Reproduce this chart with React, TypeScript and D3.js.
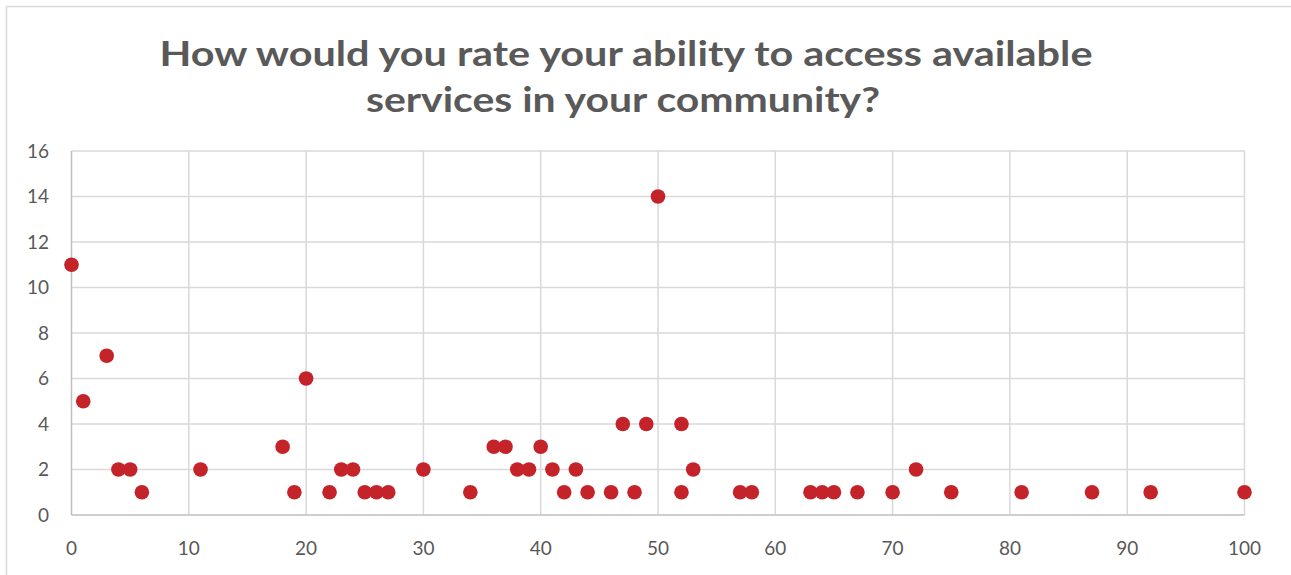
import { useMemo } from 'react'
import * as d3 from 'd3'

const TITLE_LINES = ['How would you rate your ability to access available', 'services in your community?']

// rating (x) vs number of responses (y)
const RATINGS = [0, 1, 3, 4, 5, 6, 11, 18, 19, 20, 22, 23, 24, 25, 26, 27, 30, 34, 36, 37, 38, 39, 40, 41, 42, 43, 44, 46, 47, 48, 49, 50, 52, 52, 53, 57, 58, 63, 64, 65, 67, 70, 72, 75, 81, 87, 92, 100]
const COUNTS = [11, 5, 7, 2, 2, 1, 2, 3, 1, 6, 1, 2, 2, 1, 1, 1, 2, 1, 3, 3, 2, 2, 3, 2, 1, 2, 1, 1, 4, 1, 4, 14, 4, 1, 2, 1, 1, 1, 1, 1, 1, 1, 2, 1, 1, 1, 1, 1]

const X_TICKS = [0, 10, 20, 30, 40, 50, 60, 70, 80, 90, 100]
const Y_TICKS = [0, 2, 4, 6, 8, 10, 12, 14, 16]

const W = 1291
const H = 575
const PLOT = { left: 71.5, right: 1244.5, top: 151, bottom: 515 }

const DOT = '#c5232a'
const GRID = '#d9d9d9'
const AXIS = '#bfbfbf'
const TEXT = '#595959'
const TICK_FONT = "'Lato', 'DejaVu Sans', sans-serif"
const TITLE_FONT = "'Lato', 'Open Sans', sans-serif"

export default function App() {
  const x = useMemo(() => d3.scaleLinear().domain([0, 100]).range([PLOT.left, PLOT.right]), [])
  const y = useMemo(() => d3.scaleLinear().domain([0, 16]).range([PLOT.bottom, PLOT.top]), [])

  const points = RATINGS.map((r, i) => ({ r, c: COUNTS[i] }))

  return (
    <svg width={W} height={H} style={{ position: 'absolute', left: 0, top: 0, background: '#fff' }}>
      {/* chart frame */}
      <rect x={6.5} y={6.5} width={W + 20} height={H + 20} fill="#fff" stroke={GRID} strokeWidth={1.5} />

      {/* title */}
      <text x={626} y={66} textAnchor="middle" fill={TEXT} fontFamily={TITLE_FONT} fontWeight={700} fontSize={35}
        textLength={933} lengthAdjust="spacingAndGlyphs">{TITLE_LINES[0]}</text>
      <text x={623} y={112} textAnchor="middle" fill={TEXT} fontFamily={TITLE_FONT} fontWeight={700} fontSize={35}
        textLength={514} lengthAdjust="spacingAndGlyphs">{TITLE_LINES[1]}</text>

      {/* gridlines */}
      {Y_TICKS.filter((t) => t > 0).map((t) => (
        <line key={'gy' + t} x1={PLOT.left} x2={PLOT.right} y1={y(t)} y2={y(t)} stroke={GRID} strokeWidth={1.5} />
      ))}
      {X_TICKS.filter((t) => t > 0).map((t) => (
        <line key={'gx' + t} x1={x(t)} x2={x(t)} y1={PLOT.top} y2={PLOT.bottom} stroke={GRID} strokeWidth={1.5} />
      ))}

      {/* axes */}
      <line x1={PLOT.left} x2={PLOT.right} y1={y(0)} y2={y(0)} stroke={AXIS} strokeWidth={1.5} />
      <line x1={x(0)} x2={x(0)} y1={PLOT.top} y2={PLOT.bottom} stroke={AXIS} strokeWidth={1.5} />

      {/* tick labels */}
      {Y_TICKS.map((t) => (
        <text key={'ty' + t} x={49} y={y(t) + 6.5} textAnchor="end" fill={TEXT} fontFamily={TICK_FONT} fontSize={19}>{t}</text>
      ))}
      {X_TICKS.map((t) => (
        <text key={'tx' + t} x={x(t)} y={555} textAnchor="middle" fill={TEXT} fontFamily={TICK_FONT} fontSize={19}>{t}</text>
      ))}

      {/* dots */}
      {points.map((p, i) => (
        <circle key={i} cx={x(p.r)} cy={y(p.c)} r={7.3} fill={DOT} />
      ))}
    </svg>
  )
}
